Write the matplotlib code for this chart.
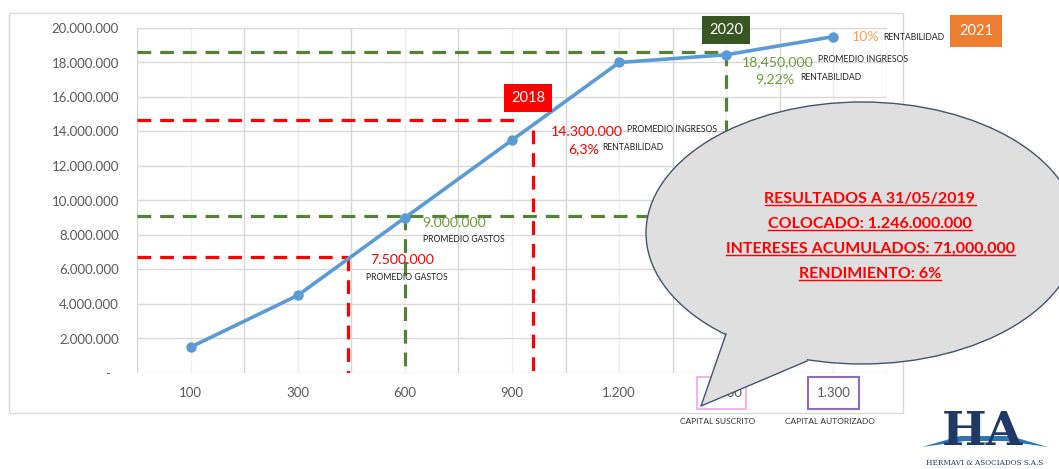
import matplotlib
matplotlib.use("Agg")
import matplotlib.pyplot as plt
from matplotlib.patches import Ellipse, Polygon, Rectangle
from matplotlib.lines import Line2D
from matplotlib.ticker import FuncFormatter

plt.rcParams["font.family"] = ["Lato", "DejaVu Sans"]

# data
categorias = ["100", "300", "600", "900", "1.200", "1.300", "1.300"]
ingresos = [1500000, 4500000, 9000000, 13500000, 18000000, 18450000, 19500000]

# reference lines
gastos_2018 = 6740000
gastos_2020 = 9130000
ingresos_2018 = 14650000
ingresos_2020 = 18600000

blue = "#5B9BD5"
red = "#FF0000"
green = "#548235"
txt_green = "#6E9A3C"
grey = "#595959"

W, H = 1059, 469
fig = plt.figure(figsize=(W / 100, H / 100), dpi=100, facecolor="white")

# chart frame (behind)
bg = fig.add_axes([0, 0, 1, 1], zorder=0)
bg.set_xlim(0, W)
bg.set_ylim(H, 0)
bg.axis("off")
bg.add_patch(Rectangle((9, 13), 894, 400, fill=False, edgecolor="#d9d9d9", lw=1))

ax = fig.add_axes([137 / W, 1 - 373 / H, 750 / W, 345 / H], zorder=1)
ax.patch.set_alpha(0)
x = list(range(len(categorias)))
ax.set_xlim(-0.5, len(categorias) - 0.5)
ax.set_ylim(0, 20000000)
ax.set_yticks(range(0, 20000001, 2000000))
ax.yaxis.set_major_formatter(FuncFormatter(
    lambda v, p: "-\u2007" if v == 0 else f"{int(v):,}".replace(",", ".")))
ax.set_xticks(x)
ax.set_xticklabels(categorias)
ax.tick_params(length=0, colors=grey, labelsize=9.5, pad=10)
ax.tick_params(axis="y", pad=13)
for s in ax.spines.values():
    s.set_visible(False)
ax.grid(axis="y", color="#d9d9d9", lw=1)
for b in [i - 0.5 for i in range(len(categorias) + 1)]:
    ax.axvline(b, color="#d6d6d6", lw=1, zorder=0)
for c in x:
    ax.axvline(c, color="#efefef", lw=1, zorder=0)

dash = dict(lw=2.3, dashes=(4.3, 2.8), zorder=3)
ax.plot([-0.5, 5.0], [ingresos_2020] * 2, color=green, **dash)
ax.plot([5.0, 5.0], [ingresos_2020, 0], color=green, **dash)
ax.plot([-0.5, 3.08], [ingresos_2018] * 2, color=red, **dash)
ax.plot([3.2, 3.2], [14100000, 0], color=red, **dash)
ax.plot([-0.5, 5.0], [gastos_2020] * 2, color=green, **dash)
ax.plot([2.0, 2.0], [gastos_2020, 0], color=green, **dash)
ax.plot([-0.5, 1.47], [gastos_2018] * 2, color=red, **dash)
ax.plot([1.47, 1.47], [gastos_2018, 0], color=red, **dash)

ax.plot(x, ingresos, color=blue, lw=2.6, marker="o", ms=6.5, zorder=4)

# annotations on top, pixel coordinates
ov = fig.add_axes([0, 0, 1, 1], zorder=2)
ov.patch.set_alpha(0)
ov.set_xlim(0, W)
ov.set_ylim(H, 0)
ov.axis("off")

def note(px, py, s, color, size, **kw):
    return ov.text(px, py, s, color=color, fontsize=size, va="center", **kw)

small = 6.2
note(551, 132, "14.300.000", red, 10.2)
note(627, 130, "PROMEDIO INGRESOS", "#222222", small)
note(568, 149, "6,3%", red, 10.2)
note(602, 147, "RENTABILIDAD", "#222222", small)
note(742, 62, "18,450,000", txt_green, 10.2)
note(818, 60, "PROMEDIO INGRESOS", "#222222", small)
note(755, 79, "9,22%", txt_green, 10.2)
note(800, 77, "RENTABILIDAD", "#222222", small)
note(422, 223, "9.000.000", txt_green, 10.2)
note(423, 240, "PROMEDIO GASTOS", "#222222", small)
note(370, 260, "7.500.000", red, 10.2)
note(366, 278, "PROMEDIO GASTOS", "#222222", small)
note(852, 37, "10%", "#F4A460", 10.2)
note(883, 37, "RENTABILIDAD", "#222222", small)

def tag(px, py, s, color, pad=0.45):
    ov.text(px, py, s, color="white", fontsize=10.5, ha="center", va="center",
            bbox=dict(boxstyle=f"square,pad={pad}", fc=color, ec="none"))

tag(726, 30, "2020", "#375623")
tag(528, 98, "2018", "#FF0000")
tag(976, 31, "2021", "#ED7D31", pad=0.6)

ov.add_patch(Rectangle((697, 377), 49, 32, fill=False, ec="#F5A9F0", lw=1.3))
ov.add_patch(Rectangle((808, 377), 51, 32, fill=False, ec="#8E6BBF", lw=1.5))
ov.text(718, 421, "CAPITAL SUSCRITO", fontsize=6, color="#333333", ha="center", va="center")
ov.text(830, 421, "CAPITAL AUTORIZADO", fontsize=6, color="#333333", ha="center", va="center")

# speech bubble
fill = "#DFDFDF"
edge = "#44546A"
ov.add_patch(Ellipse((862, 233), 432, 262, fc=fill, ec=edge, lw=1, zorder=5))
ov.add_patch(Polygon([(726, 334), (701, 406), (807, 361), (805, 345), (728, 318)],
                     closed=True, fc=fill, ec="none", zorder=6))
ov.add_line(Line2D([726, 701, 807], [334, 406, 361], color=edge, lw=1, zorder=7))

lines = ["RESULTADOS A 31/05/2019", "COLOCADO: 1.246.000.000",
         "INTERESES ACUMULADOS: 71,000,000", "RENDIMIENTO: 6%"]
texts = []
for i, s in enumerate(lines):
    texts.append(ov.text(870, 203 + i * 25, s, color="#FF0000", fontsize=11.5,
                         fontweight="bold", ha="center", va="baseline", zorder=8))

fig.canvas.draw()
r = fig.canvas.get_renderer()
for i, t in enumerate(texts):
    bb = t.get_window_extent(r)
    x0, _ = ov.transData.inverted().transform((bb.x0, bb.y0))
    x1, _ = ov.transData.inverted().transform((bb.x1, bb.y0))
    yl = 203 + i * 25 + 2.5
    ov.add_line(Line2D([x0, x1], [yl, yl], color="#FF0000", lw=1, zorder=8))

# logo
ov.text(982, 432, "HA", fontsize=34, family="DejaVu Serif", color="#1F3864",
        ha="center", va="center", fontweight="bold")
ov.add_patch(Polygon([(922, 447), (960, 436), (1010, 436), (1048, 447), (1005, 441), (965, 441)],
                     closed=True, fc="#2E75B6", ec="none"))
ov.text(985, 463, "HERMAVI & ASOCIADOS S.A.S", fontsize=5.2, family="DejaVu Serif",
        color="#1F3864", ha="center", va="center")

fig.savefig("out.png", dpi=100, facecolor="white")
